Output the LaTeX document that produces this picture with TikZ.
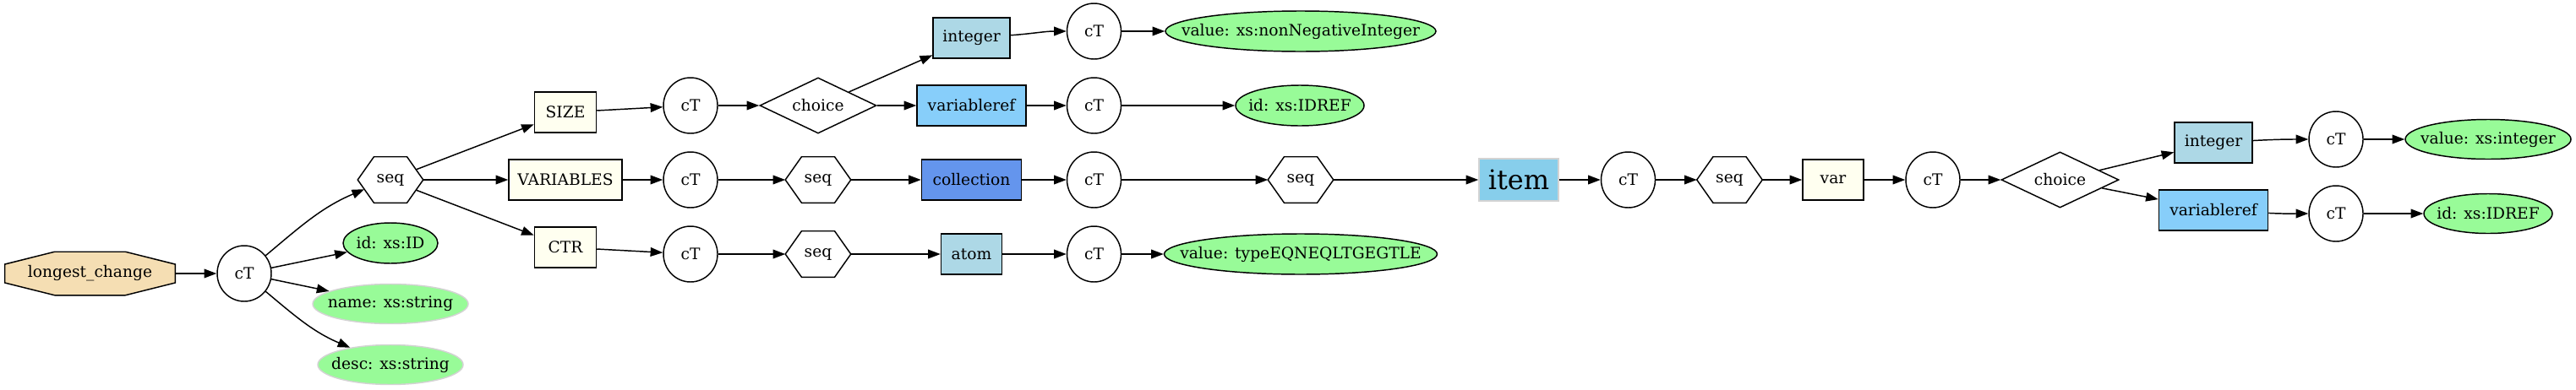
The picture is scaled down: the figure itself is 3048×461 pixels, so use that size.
\documentclass[tikz,border=0pt]{standalone}
\usepackage{fontspec}
\setmainfont{DejaVu Serif}
\usetikzlibrary{shapes.geometric,arrows.meta,calc}
\pgfdeclarelayer{bg}
\pgfsetlayers{bg,main}
\definecolor{wheat}{HTML}{F5DEB3}
\definecolor{palegreen}{HTML}{98FB98}
\definecolor{ivory}{HTML}{FFFFF0}
\definecolor{lblue}{HTML}{ADD8E6}
\definecolor{lskyblue}{HTML}{87CEFA}
\definecolor{cornflower}{HTML}{6495ED}
\definecolor{skyb}{HTML}{87CEEB}
\definecolor{lgray}{HTML}{D3D3D3}
\tikzset{
  every node/.append style={font=\fontsize{14pt}{17pt}\selectfont},
  base/.style={draw, line width=1.1pt, inner sep=0pt},
  ct/.style={base, ellipse, minimum width=48pt, minimum height=49.5pt},
  bx/.style={base, rectangle, minimum height=36pt},
  ell/.style={base, ellipse, fill=palegreen, minimum height=36pt},
  ellg/.style={ell, draw=lgray, minimum height=35.25pt},
  dia/.style={base, diamond, minimum width=103.5pt, minimum height=49.5pt},
  hexb/.style={rectangle, inner sep=0pt, minimum width=57.75pt, minimum height=40.5pt},
  octb/.style={rectangle, inner sep=0pt, minimum width=150.75pt, minimum height=38.25pt},
  hexline/.style={draw, line width=1.1pt, line join=miter},
  arr/.style={-{Triangle[length=11pt,width=8pt]}, line width=1.1pt},
}
\newcommand\hexdraw[1]{\draw[hexline] (#1.west) -- ([xshift=14.4pt]#1.north west) -- ([xshift=-14.4pt]#1.north east) -- (#1.east) -- ([xshift=-14.4pt]#1.south east) -- ([xshift=14.4pt]#1.south west) -- cycle;}
\begin{document}
\begin{tikzpicture}[x=0.75pt,y=0.75pt]
\useasboundingbox (0,0) rectangle (3048,-461);
% root
\node[octb] (lc) at (106.5,-324) {longest\_change};
\begin{pgfonlayer}{bg}
\draw[line width=1.1pt, fill=wheat] ([yshift=8.25pt]lc.west) -- ([xshift=44.25pt]lc.north west) -- ([xshift=-44.25pt]lc.north east) -- ([yshift=8.25pt]lc.east) -- ([yshift=-8.25pt]lc.east) -- ([xshift=-44.25pt]lc.south east) -- ([xshift=44.25pt]lc.south west) -- ([yshift=-8.25pt]lc.west) -- cycle;
\end{pgfonlayer}
\node[ct] (ct0) at (289,-324) {cT};
\node[hexb] (s0) at (462,-213) {seq}; \hexdraw{s0}
\node[ell, minimum width=84pt, label={[name=idID-t]center:{id: xs:ID}}] (idID) at (462,-288) {};
\node[ellg, minimum width=138pt, label={[name=name-t]center:{name: xs:string}}] (name) at (462,-360) {};
\node[ellg, minimum width=129pt, label={[name=desc-t]center:{desc: xs:string}}] (desc) at (462,-432) {};
% column of seq children
\node[bx, fill=ivory, minimum width=54.75pt] (SIZE) at (669,-133) {SIZE};
\node[bx, fill=ivory, minimum width=100.5pt] (VARS) at (669,-213) {VARIABLES};
\node[bx, fill=ivory, minimum width=54.75pt] (CTR) at (669,-293) {CTR};
\node[ct] (ct1) at (817,-125) {cT};
\node[ct] (ct2) at (817,-213) {cT};
\node[ct] (ct3) at (817,-301) {cT};
\node[dia, label={[name=ch1-t]center:choice}] (ch1) at (968,-125) {};
\node[hexb] (s1) at (968,-213) {seq}; \hexdraw{s1}
\node[hexb] (s2) at (968,-301) {seq}; \hexdraw{s2}
\node[bx, fill=lblue, minimum width=68.25pt] (int1) at (1149.5,-45) {integer};
\node[bx, fill=lskyblue, minimum width=96.75pt] (vref1) at (1149.5,-125) {variableref};
\node[bx, fill=cornflower, minimum width=88.5pt] (coll) at (1149.5,-213) {collection};
\node[bx, fill=lblue, minimum width=54pt] (atom) at (1149.5,-301) {atom};
\node[ct] (ct4) at (1294.5,-37) {cT};
\node[ct] (ct5) at (1294.5,-125) {cT};
\node[ct] (ct6) at (1294.5,-213) {cT};
\node[ct] (ct7) at (1294.5,-301) {cT};
\node[ell, minimum width=240pt, label={[name=vNNI-t]center:{value: xs:nonNegativeInteger}}] (vNNI) at (1539,-37) {};
\node[ell, minimum width=114pt, label={[name=idref1-t]center:{id: xs:IDREF}}] (idref1) at (1538,-125) {};
\node[hexb] (s3) at (1539,-213) {seq}; \hexdraw{s3}
\node[ell, minimum width=242.25pt, label={[name=vType-t]center:{value: typeEQNEQLTGEGTLE}}] (vType) at (1539,-301) {};
% item chain
\node[rectangle, draw=lgray, line width=1.1pt, fill=skyb, inner sep=0pt, minimum width=70.5pt, minimum height=37.5pt, font=\fontsize{24pt}{28pt}\selectfont] (item) at (1797,-213) {item};
\node[ct] (ct8) at (1926.5,-213) {cT};
\node[hexb] (s4) at (2046.5,-213) {seq}; \hexdraw{s4}
\node[bx, fill=ivory, minimum width=54pt] (var) at (2169,-213) {var};
\node[ct] (ct9) at (2287,-213) {cT};
\node[dia, minimum width=104.25pt, label={[name=ch2-t]center:choice}] (ch2) at (2437.5,-213) {};
\node[bx, fill=lblue, minimum width=69pt] (int2) at (2619,-169) {integer};
\node[bx, fill=lskyblue, minimum width=96.75pt] (vref2) at (2619,-249) {variableref};
\node[ct] (ct10) at (2764,-165) {cT};
\node[ct] (ct11) at (2764,-253) {cT};
\node[ell, minimum width=147pt, minimum height=35.25pt, label={[name=vInt-t]center:{value: xs:integer}}] (vInt) at (2944,-165) {};
\node[ell, minimum width=114pt, minimum height=35.25pt, label={[name=idref2-t]center:{id: xs:IDREF}}] (idref2) at (2944,-253) {};
% helper points on hexagon s0
\coordinate (s0ur) at ($(s0.east)!0.444!([xshift=-14.4pt]s0.north east)$);
\coordinate (s0lr) at ($(s0.east)!0.444!([xshift=-14.4pt]s0.south east)$);
\coordinate (s0ll) at ($(s0.west)!0.41!([xshift=14.4pt]s0.south west)$);
% edges
\draw[arr] (lc) -- (ct0);
\draw[arr] (ct0) to[out=40,in=203] (s0ll);
\draw[arr] (ct0) -- (idID);
\draw[arr] (ct0) -- (name);
\draw[arr] (ct0) to[out=-40,in=157] (desc);
\draw[arr] (s0ur) -- (SIZE);
\draw[arr] (s0.east) -- (VARS);
\draw[arr] (s0lr) -- (CTR);
\draw[arr] (SIZE) -- (ct1);
\draw[arr] (VARS) -- (ct2);
\draw[arr] (CTR) -- (ct3);
\draw[arr] (ct1) -- (ch1);
\draw[arr] (ct2) -- (s1.west);
\draw[arr] (ct3) -- (s2.west);
\draw[arr] (ch1) -- (int1);
\draw[arr] (ch1) -- (vref1);
\draw[arr] (s1.east) -- (coll);
\draw[arr] (s2.east) -- (atom);
\draw[arr] (int1) to[out=4,in=180] (ct4);
\draw[arr] (vref1) -- (ct5);
\draw[arr] (coll) -- (ct6);
\draw[arr] (atom) -- (ct7);
\draw[arr] (ct4) -- (vNNI);
\draw[arr] (ct5) -- (idref1);
\draw[arr] (ct6) -- (s3.west);
\draw[arr] (ct7) -- (vType);
\draw[arr] (s3.east) -- (item);
\draw[arr] (item) -- (ct8);
\draw[arr] (ct8) -- (s4.west);
\draw[arr] (s4.east) -- (var);
\draw[arr] (var) -- (ct9);
\draw[arr] (ct9) -- (ch2);
\draw[arr] (ch2) -- (int2);
\draw[arr] (ch2) -- (vref2);
\draw[arr] (int2) to[out=3,in=180] (ct10);
\draw[arr] (vref2) to[out=-3,in=180] (ct11);
\draw[arr] (ct10) -- (vInt);
\draw[arr] (ct11) -- (idref2);
\end{tikzpicture}
\end{document}
